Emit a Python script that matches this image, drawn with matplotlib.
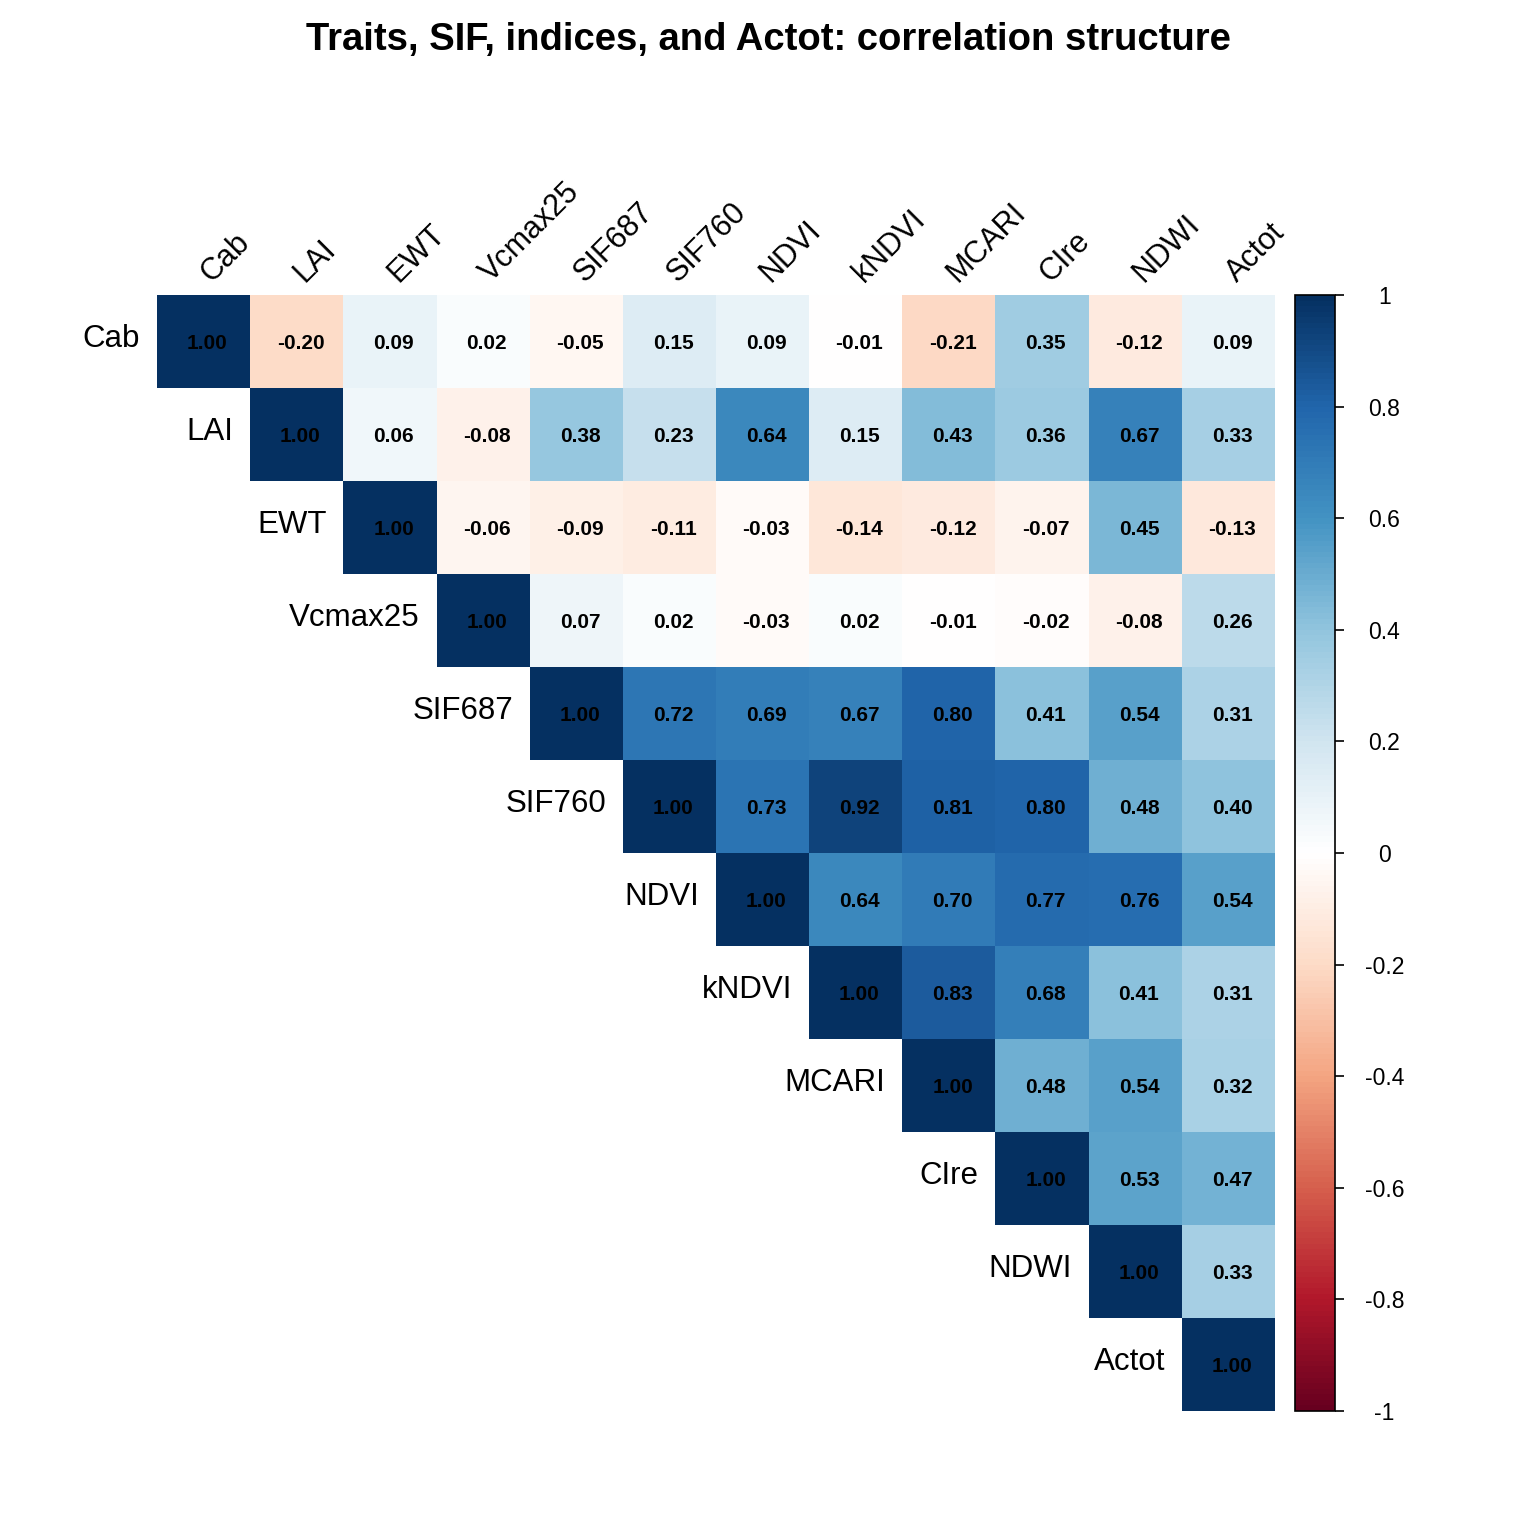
import numpy as np
import matplotlib.pyplot as plt
from matplotlib.colors import LinearSegmentedColormap

plt.rcParams['font.family'] = ['Liberation Sans', 'DejaVu Sans']

labels = ['Cab', 'LAI', 'EWT', 'Vcmax25', 'SIF687', 'SIF760', 'NDVI', 'kNDVI',
          'MCARI', 'CIre', 'NDWI', 'Actot']

# upper triangle, row by row (diagonal included)
upper_rows = [
    [1.00, -0.20, 0.09, 0.02, -0.05, 0.15, 0.09, -0.01, -0.21, 0.35, -0.12, 0.09],
    [1.00, 0.06, -0.08, 0.38, 0.23, 0.64, 0.15, 0.43, 0.36, 0.67, 0.33],
    [1.00, -0.06, -0.09, -0.11, -0.03, -0.14, -0.12, -0.07, 0.45, -0.13],
    [1.00, 0.07, 0.02, -0.03, 0.02, -0.01, -0.02, -0.08, 0.26],
    [1.00, 0.72, 0.69, 0.67, 0.80, 0.41, 0.54, 0.31],
    [1.00, 0.73, 0.92, 0.81, 0.80, 0.48, 0.40],
    [1.00, 0.64, 0.70, 0.77, 0.76, 0.54],
    [1.00, 0.83, 0.68, 0.41, 0.31],
    [1.00, 0.48, 0.54, 0.32],
    [1.00, 0.53, 0.47],
    [1.00, 0.33],
    [1.00],
]

n = len(labels)
M = np.full((n, n), np.nan)
for i, row in enumerate(upper_rows):
    M[i, i:] = row
Mm = np.ma.masked_invalid(M)

cols = ["#67001F", "#B2182B", "#D6604D", "#F4A582", "#FDDBC7", "#FFFFFF",
        "#D1E5F0", "#92C5DE", "#4393C3", "#2166AC", "#053061"]
cmap = LinearSegmentedColormap.from_list('corr', cols, N=200)

W = 1536.0
fig = plt.figure(figsize=(15.36, 15.36), dpi=100)

x0, x1, y0, y1 = 157, 1275, 295, 1411
ax = fig.add_axes([x0 / W, 1 - y1 / W, (x1 - x0) / W, (y1 - y0) / W])
mesh = ax.pcolormesh(np.arange(n + 1), np.arange(n + 1), Mm, cmap=cmap, vmin=-1, vmax=1)
ax.set_xlim(0, n)
ax.set_ylim(n, 0)
ax.axis('off')

for i in range(n):
    for j in range(i, n):
        ax.text(j + 0.54, i + 0.52, f"{M[i, j]:.2f}", ha='center', va='center',
                fontsize=15, fontweight='bold', color='black')
    # row labels
    ax.text(i - 0.18, i + 0.47, labels[i], ha='right', va='center', fontsize=22.5,
            clip_on=False)
    # column labels
    ax.text(i + 0.64, -0.08, labels[i], ha='left', va='bottom', rotation=45,
            rotation_mode='anchor', fontsize=22, clip_on=False)

cax = fig.add_axes([1295 / W, 1 - y1 / W, 40 / W, (y1 - y0) / W])
cb = fig.colorbar(mesh, cax=cax)
ticks = np.round(np.arange(-1, 1.01, 0.2), 1)
cb.set_ticks(ticks)
cb.set_ticklabels([f"{t:g}" if t != 0 else "0" for t in ticks])
cb.ax.tick_params(labelsize=16.5, length=6.5, width=1.2, pad=29)
for lab in cb.ax.get_yticklabels():
    lab.set_horizontalalignment('center')
cb.outline.set_linewidth(1.2)

fig.text(0.5, 1 - 40 / W, 'Traits, SIF, indices, and Actot: correlation structure',
         ha='center', va='center', fontsize=27.5, fontweight='bold')

fig.savefig('out.png', dpi=100)
